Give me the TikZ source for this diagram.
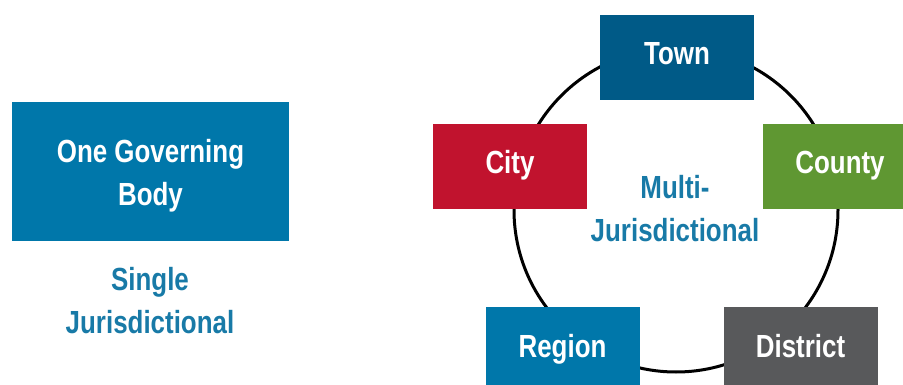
\documentclass[tikz,border=0pt]{standalone}
\usepackage{fontspec}
\setmainfont{Liberation Sans}[FakeStretch=0.81]
\definecolor{govblue}{RGB}{0,119,170}
\definecolor{townblue}{RGB}{0,90,135}
\definecolor{cityred}{RGB}{193,19,46}
\definecolor{countygreen}{RGB}{95,151,50}
\definecolor{districtgrey}{RGB}{88,89,91}
\definecolor{labelblue}{RGB}{24,122,167}
\begin{document}
\begin{tikzpicture}[x=1pt, y=-1pt,
		unitbox/.style={fill=#1, text=white, inner sep=0pt,
			minimum width=154pt, minimum height=85pt,
			text height=23pt, text depth=8pt,
			font=\fontsize{32}{43}\selectfont\bfseries},
		kindlabel/.style={text=labelblue, align=center, inner sep=0pt,
			font=\fontsize{32}{43}\selectfont\bfseries}]
		\clip (0,0) rectangle (903,385);
		% single jurisdiction
		\node (single) at (150.5,171.5)[fill=govblue, text=white, align=center,
			minimum width=277pt, minimum height=139pt, inner sep=0pt,
			font=\fontsize{32}{43}\selectfont\bfseries] {\rule{0pt}{32pt}One Governing\\Body};
		\node (singlelabel) at (150,301)[kindlabel] {Single\\Jurisdictional};
		% multi jurisdiction ring
		\coordinate (hub) at (676,210);
		\draw[line width=3pt] (hub) circle (162pt);
		\node (multilabel) at (675,208.5)[kindlabel] {Multi-\\Jurisdictional};
		\node (town)     at (677,57.5)[unitbox=townblue]      {Town};
		\node (city)     at (510,166.5)[unitbox=cityred]      {City};
		\node (county)   at (840,166.5)[unitbox=countygreen]  {County};
		\node (region)   at (562.5,349.5)[unitbox=govblue]    {Region};
		\node (district) at (800.5,349.5)[unitbox=districtgrey] {District};
	\end{tikzpicture}
\end{document}
